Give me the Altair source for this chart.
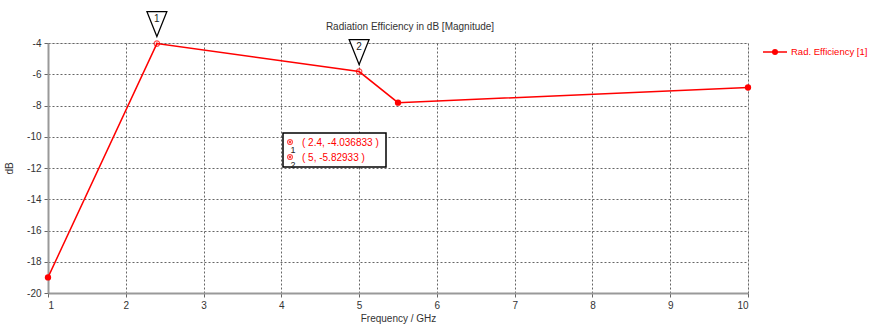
import altair as alt
import pandas as pd

freq = [1, 2.4, 5, 5.5, 10]
eff_db = [-19.0, -4.036833, -5.82933, -7.82, -6.85]
marker_idx = ["1", "2"]
marker_freq = [2.4, 5]
marker_db = [-4.036833, -5.82933]
marker_text = ["( 2.4, -4.036833 )", "( 5, -5.82933 )"]
x_ticks = [1, 2, 3, 4, 5, 6, 7, 8, 9, 10]
y_ticks = [-20, -18, -16, -14, -12, -10, -8, -6, -4]
title_text = "Radiation Efficiency in dB [Magnitude]"
legend_name = "Rad. Efficiency [1]"

FONT = "Liberation Sans"
RED = "#ff0000"

df = pd.DataFrame({"f": freq, "db": eff_db})
mk = pd.DataFrame({"f": marker_freq, "db": marker_db, "id": marker_idx, "txt": marker_text})
plain = df[~df["f"].isin(marker_freq)]

xs = alt.Scale(domain=[1, 10], nice=False, zero=False)
ys = alt.Scale(domain=[-20, -4], nice=False, zero=False)

common = dict(grid=True, gridDash=[2, 2], gridColor="#666", gridWidth=1, domainColor="#999",
              domainWidth=2, tickColor="#666", tickSize=4, labelFont=FONT, labelFontSize=10,
              labelColor="#333", titleFont=FONT, titleFontSize=10, titleFontWeight="normal",
              titleColor="#333", labelPadding=3, labelOverlap=False,
              labelExpr="'' + datum.value")
x_axis = alt.Axis(values=x_ticks, title="Frequency / GHz", titlePadding=3, **common)
y_axis = alt.Axis(values=y_ticks, title="dB", titlePadding=12, **common)

X = alt.X("f:Q", scale=xs, axis=x_axis)
Y = alt.Y("db:Q", scale=ys, axis=y_axis)

line = alt.Chart(df).mark_line(color=RED, strokeWidth=1.5, clip=False).encode(x=X, y=Y)
dots = alt.Chart(plain).mark_circle(color=RED, size=40, opacity=1, clip=False).encode(x=X, y=Y)

ring = alt.Chart(mk).mark_point(color=RED, size=30, strokeWidth=1.2, filled=False, clip=False).encode(x=X, y=Y)
ringdot = alt.Chart(mk).mark_circle(color=RED, size=4, opacity=1, clip=False).encode(x=X, y=Y)

tri = alt.Chart(mk).mark_point(
    shape="M-0.8,-1L0.8,-1L0,1Z", size=625, filled=True, fill="white", stroke="black",
    strokeWidth=1.2, opacity=1, yOffset=-19.5, clip=False).encode(x=X, y=Y)
tri_txt = alt.Chart(mk).mark_text(font=FONT, fontSize=10, color="#222", yOffset=-25,
                                  clip=False).encode(x=X, y=Y, text="id:N")

# chart title as text
ttl = alt.Chart(pd.DataFrame({"t": [title_text]})).mark_text(
    font=FONT, fontSize=10, color="#333", align="center", baseline="middle", clip=False).encode(
    x=alt.value(362), y=alt.value(-16), text="t:N")

# annotation box
box = alt.Chart(pd.DataFrame({"a": [0]})).mark_rect(
    fill="white", stroke="black", strokeWidth=1.5).encode(
    x=alt.value(235), x2=alt.value(338), y=alt.value(90), y2=alt.value(124))

box_layers = []
for i, yy in enumerate([99, 114]):
    row = mk.iloc[[i]]
    c = alt.Chart(row)
    box_layers.append(c.mark_text(font=FONT, fontSize=10, color=RED, align="left",
                                  baseline="middle").encode(
        x=alt.value(254), y=alt.value(yy + 1), text="txt:N"))
    box_layers.append(c.mark_point(color=RED, size=24, strokeWidth=1.2, filled=False).encode(
        x=alt.value(242), y=alt.value(yy)))
    box_layers.append(c.mark_circle(color=RED, size=4, opacity=1).encode(
        x=alt.value(242), y=alt.value(yy)))
    box_layers.append(c.mark_text(font=FONT, fontSize=9, color="#222", align="center",
                                  baseline="middle").encode(
        x=alt.value(245), y=alt.value(yy + 8), text="id:N"))

# legend
leg = pd.DataFrame({"name": [legend_name]})
leg_line = alt.Chart(leg).mark_rule(color=RED, strokeWidth=1.5, clip=False).encode(
    x=alt.value(715), x2=alt.value(739), y=alt.value(9))
leg_dot = alt.Chart(leg).mark_circle(color=RED, size=36, opacity=1, clip=False).encode(
    x=alt.value(727), y=alt.value(9))
leg_txt = alt.Chart(leg).mark_text(font=FONT, fontSize=9.5, color=RED, align="left",
                                   baseline="middle", clip=False).encode(
    x=alt.value(743), y=alt.value(9), text="name:N")

chart = alt.layer(line, dots, ring, ringdot, tri, tri_txt, ttl, box, *box_layers,
                  leg_line, leg_dot, leg_txt).properties(
    width=700, height=250,
    autosize=alt.AutoSizeParams(type="none"),
    padding={"left": 48, "top": 43, "right": 121, "bottom": 31},
).configure_view(stroke="#999", strokeWidth=2).configure(background="white")

chart.save("out.html", embed_options={"renderer": "svg", "actions": False})
